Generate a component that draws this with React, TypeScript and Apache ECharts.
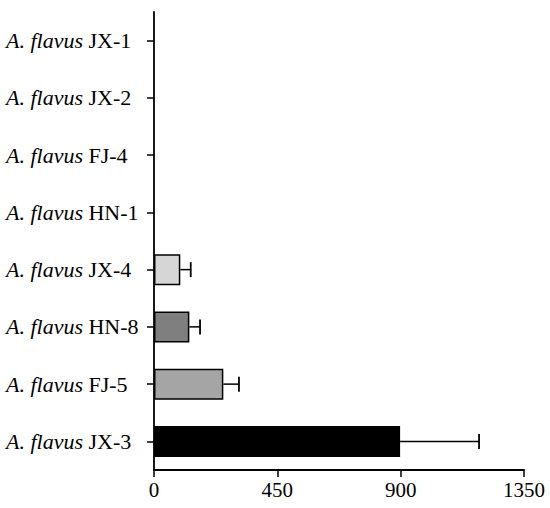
import React, { useEffect, useRef } from "react";
import * as echarts from "echarts";

const strains = ["JX-1", "JX-2", "FJ-4", "HN-1", "JX-4", "HN-8", "FJ-5", "JX-3"];
const labelSuffix = ["", "", " ", "", "", "", " ", ""];
const means = [0, 0, 0, 0, 96, 129, 253, 898];
const errors = [0, 0, 0, 0, 38, 39, 57, 288];
const barColors = ["#ffffff", "#ffffff", "#ffffff", "#ffffff", "#d6d6d6", "#7f7f7f", "#a5a5a5", "#000000"];
const xTicks = [0, 450, 900, 1350];

export default function App() {
  const ref = useRef<HTMLDivElement>(null);
  useEffect(() => {
    if (!ref.current) return;
    document.body.style.margin = "0";
    const chart = echarts.init(ref.current, null, { renderer: "svg" });
    const font = "'Liberation Serif', 'Times New Roman', serif";
    chart.setOption({
      animation: false,
      grid: { left: 154, right: 26, top: 12, bottom: 38, containLabel: false },
      xAxis: {
        type: "value",
        min: xTicks[0],
        max: xTicks[xTicks.length - 1],
        interval: xTicks[1] - xTicks[0],
        splitLine: { show: false },
        axisLine: { show: true, lineStyle: { color: "#000", width: 1.8 } },
        axisTick: { show: true, length: 7, lineStyle: { color: "#000", width: 1.5 } },
        axisLabel: {
          color: "#000",
          fontFamily: font,
          fontSize: 21,
          margin: 9,
          formatter: (v: number) => String(v),
        },
      },
      yAxis: {
        type: "category",
        inverse: true,
        data: strains.map((s, i) => "{i|A. flavus} " + s + labelSuffix[i]),
        axisLine: { show: true, lineStyle: { color: "#000", width: 1.8 } },
        axisTick: { show: true, alignWithLabel: true, length: 7, lineStyle: { color: "#000", width: 1.5 } },
        axisLabel: {
          color: "#000",
          fontFamily: font,
          fontSize: 22,
          align: "left",
          margin: 148,
          rich: {
            i: { fontStyle: "italic", fontFamily: font, fontSize: 22, color: "#000" },
          },
        },
      },
      series: [
        {
          type: "bar",
          barWidth: 31,
          data: means.map((v, i) => ({
            value: v,
            itemStyle: { color: barColors[i], borderColor: "#000", borderWidth: v > 0 ? 1.5 : 0 },
          })),
        },
        {
          type: "custom",
          data: means.map((v, i) => [v, i, errors[i]]),
          renderItem: (params: any, api: any) => {
            const v = api.value(0);
            const idx = api.value(1);
            const e = api.value(2);
            if (!e) return null;
            const p0 = api.coord([v, idx]);
            const p1 = api.coord([v + e, idx]);
            const cap = 7.5;
            return {
              type: "group",
              children: [
                {
                  type: "line",
                  shape: { x1: p0[0], y1: p0[1], x2: p1[0], y2: p1[1] },
                  style: { stroke: "#000", lineWidth: 1.5 },
                },
                {
                  type: "line",
                  shape: { x1: p1[0], y1: p1[1] - cap, x2: p1[0], y2: p1[1] + cap },
                  style: { stroke: "#000", lineWidth: 1.8 },
                },
              ],
            };
          },
          z: 3,
        },
      ],
    });
    return () => chart.dispose();
  }, []);
  return <div ref={ref} style={{ width: 550, height: 508 }} />;
}
